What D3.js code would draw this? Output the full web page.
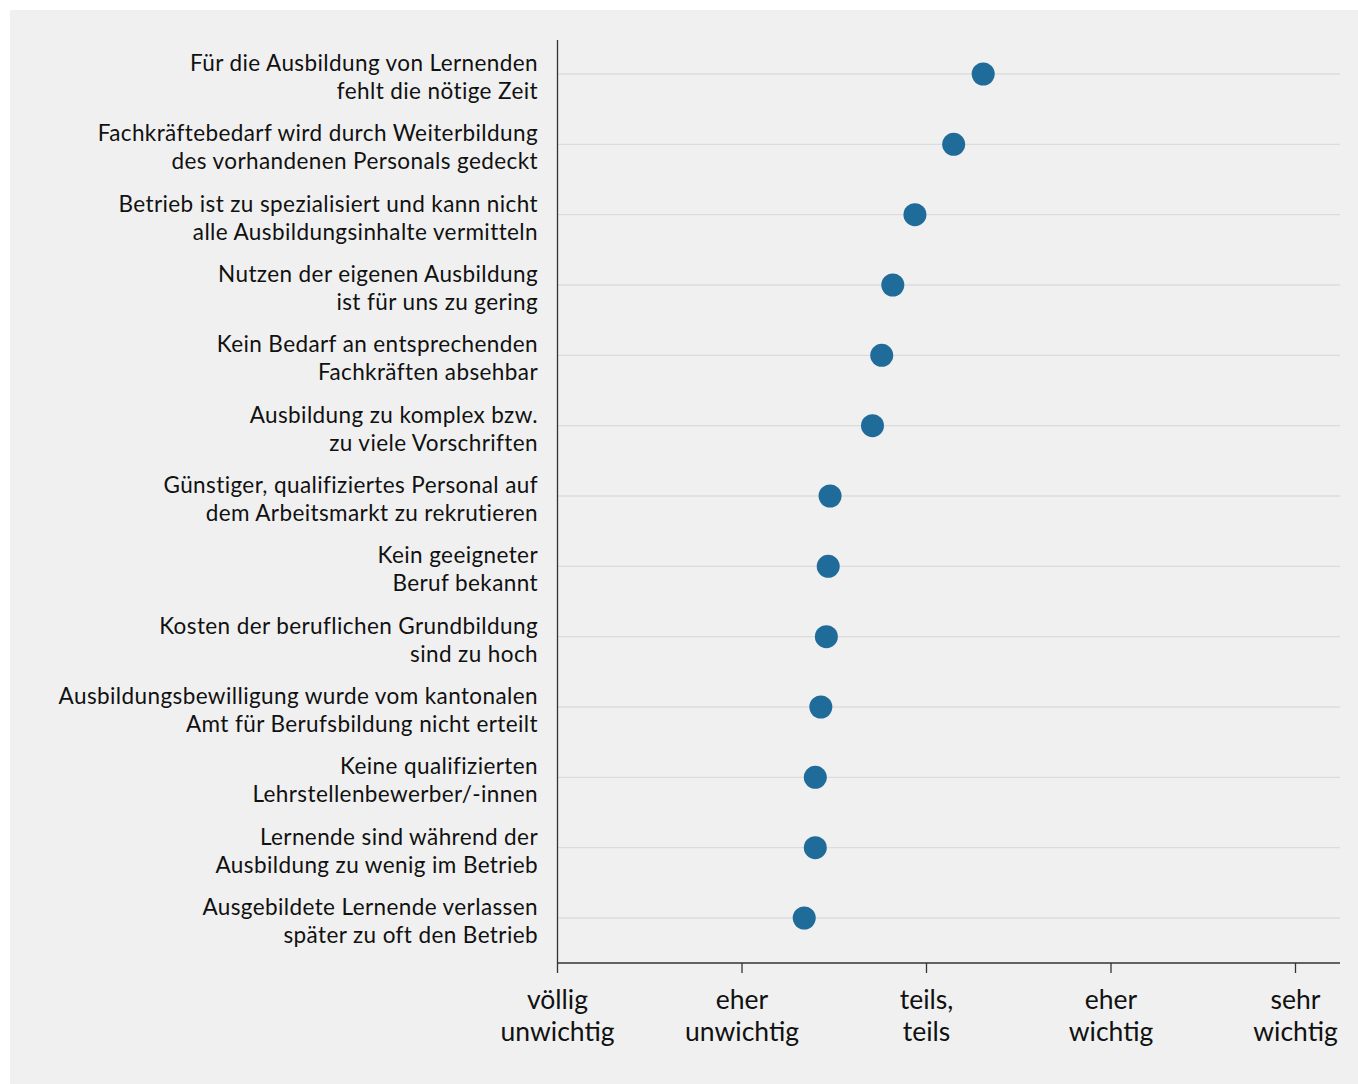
<!DOCTYPE html>
<html><head><meta charset="utf-8">
<script src="https://cdn.jsdelivr.net/npm/d3@7"></script>
<style>
html,body{margin:0;padding:0;background:#fff;}
svg{display:block;}
</style></head>
<body>
<script>
const categories = [
  ["Für die Ausbildung von Lernenden","fehlt die nötige Zeit"],
  ["Fachkräftebedarf wird durch Weiterbildung","des vorhandenen Personals gedeckt"],
  ["Betrieb ist zu spezialisiert und kann nicht","alle Ausbildungsinhalte vermitteln"],
  ["Nutzen der eigenen Ausbildung","ist für uns zu gering"],
  ["Kein Bedarf an entsprechenden","Fachkräften absehbar"],
  ["Ausbildung zu komplex bzw.","zu viele Vorschriften"],
  ["Günstiger, qualifiziertes Personal auf","dem Arbeitsmarkt zu rekrutieren"],
  ["Kein geeigneter","Beruf bekannt"],
  ["Kosten der beruflichen Grundbildung","sind zu hoch"],
  ["Ausbildungsbewilligung wurde vom kantonalen","Amt für Berufsbildung nicht erteilt"],
  ["Keine qualifizierten","Lehrstellenbewerber/-innen"],
  ["Lernende sind während der","Ausbildung zu wenig im Betrieb"],
  ["Ausgebildete Lernende verlassen","später zu oft den Betrieb"]
];
const values = [3.31, 3.15, 2.94, 2.82, 2.76, 2.71, 2.48, 2.47, 2.46, 2.43, 2.40, 2.40, 2.34];
const tickValues = [1, 2, 3, 4, 5];
const tickLabels = [["völlig","unwichtig"],["eher","unwichtig"],["teils,","teils"],["eher","wichtig"],["sehr","wichtig"]];

const W = 1358, H = 1084;
const svg = d3.select("body").append("svg").attr("width", W).attr("height", H);
const font = "'Source Sans Pro', Lato, 'Noto Sans', sans-serif";

svg.append("rect").attr("x", 10).attr("y", 10).attr("width", W - 10).attr("height", H - 10).attr("fill", "#f0f0f0");

const x = d3.scaleLinear().domain([1, 5]).range([557, 1295]);
const ids = categories.map((d, i) => i);
const y = d3.scalePoint().domain(ids).range([74, 918]);
const xEnd = 1340, yTop = 40, yBottom = 963;

// gridlines
svg.append("g").selectAll("line").data(ids).join("line")
  .attr("x1", 557).attr("x2", xEnd)
  .attr("y1", d => y(d)).attr("y2", d => y(d))
  .attr("stroke", "#dcdcdc").attr("stroke-width", 1.3);

// y axis line
svg.append("line").attr("x1", 557.5).attr("x2", 557.5).attr("y1", yTop).attr("y2", yBottom)
  .attr("stroke", "#333").attr("stroke-width", 1.3);

// x axis
const xAxis = d3.axisBottom(x).tickValues(tickValues).tickSize(10).tickFormat("");
const gx = svg.append("g").attr("transform", `translate(0,${yBottom})`).call(xAxis);
gx.select(".domain").remove();
gx.selectAll(".tick line").attr("stroke", "#333").attr("stroke-width", 1.3);
svg.append("line").attr("x1", 557).attr("x2", xEnd).attr("y1", yBottom).attr("y2", yBottom)
  .attr("stroke", "#333").attr("stroke-width", 1.3);

gx.selectAll(".tick").each(function(d, i) {
  const t = d3.select(this).append("text")
    .attr("fill", "#111").attr("font-family", font).attr("font-size", 26.5)
    .attr("text-anchor", "middle");
  tickLabels[i].forEach((s, j) => {
    t.append("tspan").attr("x", 0).attr("y", 46 + j * 32).text(s);
  });
});

// category labels
const lab = svg.append("g").selectAll("text").data(ids).join("text")
  .attr("text-anchor", "end").attr("font-family", font).attr("font-size", 22.5)
  .attr("letter-spacing", 0.4)
  .attr("fill", "#111");
lab.each(function(d) {
  const t = d3.select(this);
  categories[d].forEach((s, j) => {
    t.append("tspan").attr("x", 538).attr("y", y(d) - 3 + j * 28).text(s);
  });
});

// dots
svg.append("g").selectAll("circle").data(ids).join("circle")
  .attr("cx", d => x(values[d])).attr("cy", d => y(d)).attr("r", 11.5)
  .attr("fill", "#1f6b99");
</script>
</body></html>
